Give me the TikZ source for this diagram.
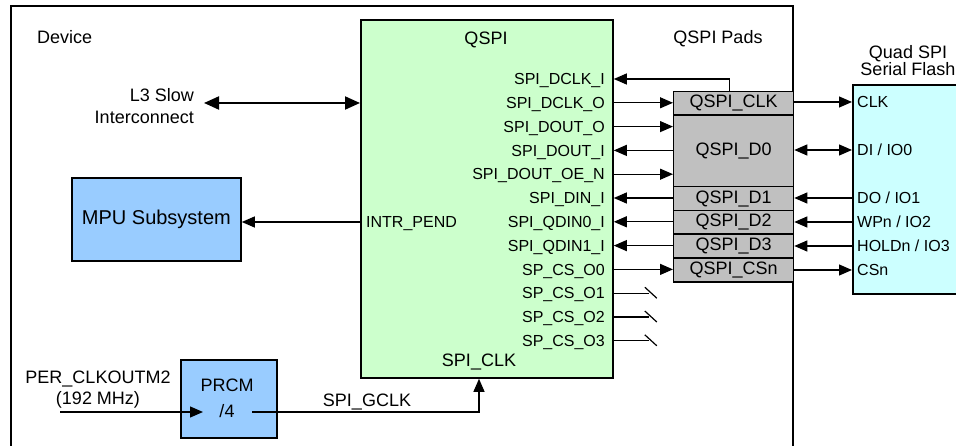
\documentclass[tikz,border=0pt]{standalone}
\usepackage{fontspec}
\setmainfont{Liberation Sans}
\usetikzlibrary{arrows.meta}
\definecolor{qgreen}{HTML}{CCFFCC}
\definecolor{qblue}{HTML}{99CCFF}
\definecolor{qcyan}{HTML}{CCFFFF}
\definecolor{qgray}{HTML}{C0C0C0}
\begin{document}
\begin{tikzpicture}[x=1pt,y=-1pt,
  blk/.style={draw, line width=1.8pt, inner sep=0pt, anchor=north west},
  pad/.style={draw, line width=1.3pt, fill=qgray, inner sep=0pt, anchor=north west, minimum width=120pt, font=\fontsize{18}{20}\selectfont},
  sig/.style={font=\fontsize{16}{18}\selectfont, inner sep=0pt, text height=11.5pt, text depth=0pt},
  lbl/.style={font=\fontsize{18}{22}\selectfont, inner sep=0pt},
  con/.style={line width=1.2pt},
  tip/.style={-{Triangle[length=13pt,width=11pt]}},
  tipb/.style={{Triangle[length=13pt,width=11pt]}-{Triangle[length=13pt,width=11pt]}},
  tipL/.style={{Triangle[length=15pt,width=13pt]}-{Triangle[length=15pt,width=13pt]}}]
\useasboundingbox (0,0) rectangle (956,446);
% device outline
\draw[line width=2pt] (11,470) -- (11,6) -- (793,6) -- (793,470);
\node[lbl, anchor=west] (dev) at (37,37) {Device};
% QSPI block
\node[blk, fill=qgreen, minimum width=252pt, minimum height=358pt] (qspi) at (360,19) {};
\node[lbl] (qt) at (486,40) {QSPI};
% signal labels
\foreach \n/\t [count=\i from 0] in {l1/SPI\_DCLK\_I, l2/SPI\_DCLK\_O, l3/SPI\_DOUT\_O, l4/SPI\_DOUT\_I, l5/SPI\_DOUT\_OE\_N, l6/SPI\_DIN\_I, l7/SPI\_QDIN0\_I, l8/SPI\_QDIN1\_I, l9/SP\_CS\_O0, l10/SP\_CS\_O1, l11/SP\_CS\_O2, l12/SP\_CS\_O3}
  \node[sig, anchor=east] (\n) at (605,{79+23.8*\i}) {\t};
\node[sig, anchor=west] (intr) at (366,222) {INTR\_PEND};
\node[lbl] (sclk) at (479,362) {SPI\_CLK};
% pads
\node[lbl] (padt) at (718,39) {QSPI Pads};
\node[pad, minimum height=23.5pt] (pclk) at (673,91) {QSPI\_CLK};
\node[pad, minimum height=71.5pt] (pd0) at (673,114.5) {QSPI\_D0};
\node[pad, minimum height=24pt] (pd1) at (673,186) {QSPI\_D1};
\node[pad, minimum height=23.5pt] (pd2) at (673,210) {QSPI\_D2};
\node[pad, minimum height=24pt] (pd3) at (673,233.5) {QSPI\_D3};
\node[pad, minimum height=24pt] (pcs) at (673,257.5) {QSPI\_CSn};
% flash
\node[blk, fill=qcyan, minimum width=140pt, minimum height=209pt] (fl) at (852,84) {};
\node[lbl, align=center, font=\fontsize{18}{17}\selectfont] (flt) at (908,61) {Quad SPI\\Serial Flash};
\foreach \n/\t/\y in {f1/{CLK}/102, f2/{DI / IO0}/150, f3/{DO / IO1}/198, f4/{WPn / IO2}/222, f5/{HOLDn / IO3}/246, f6/{CSn}/270}
  \node[sig, anchor=west] (\n) at (857,\y) {\t};
% QSPI <-> pads
\draw[con, tip] ([xshift=-4pt]pclk.north) |- (qspi.east |- l1);
\draw[con, tip] (qspi.east |- l2) -- (pclk.west |- l2);
\draw[con, tip] (qspi.east |- l3) -- (pd0.west |- l3);
\draw[con, tip] (pd0.west |- l4) -- (qspi.east |- l4);
\draw[con, tip] (qspi.east |- l5) -- (pd0.west |- l5);
\draw[con, tip] (pd1.west |- l6) -- (qspi.east |- l6);
\draw[con, tip] (pd2.west |- l7) -- (qspi.east |- l7);
\draw[con, tip] (pd3.west |- l8) -- (qspi.east |- l8);
\draw[con, tip] (qspi.east |- l9) -- (pcs.west |- l9);
\foreach \n in {l10,l11,l12} {
  \coordinate (\n e) at ([xshift=35pt]qspi.east |- \n);
  \draw[con] (qspi.east |- \n) -- (\n e);
  \draw[con] ([shift={(-4pt,6pt)}]\n e) -- ([shift={(8pt,-5pt)}]\n e);
}
% pads <-> flash
\draw[con, tip] (pclk.east |- f1) -- (fl.west |- f1);
\draw[con, tipb] (pd0.east |- f2) -- (fl.west |- f2);
\draw[con, tip] (fl.west |- f3) -- (pd1.east |- f3);
\draw[con, tip] (fl.west |- f4) -- (pd2.east |- f4);
\draw[con, tip] (fl.west |- f5) -- (pd3.east |- f5);
\draw[con, tip] (pcs.east |- f6) -- (fl.west |- f6);
% L3
\node[lbl, align=right, anchor=east] (l3i) at (194,106) {L3 Slow\\Interconnect};
\coordinate (l3e) at (204,103);
\draw[tipL, line width=2pt] (l3e) -- (qspi.west |- l3e);
% MPU
\node[blk, fill=qblue, minimum width=169pt, minimum height=83pt, font=\fontsize{20}{22}\selectfont] (mpu) at (71,177) {MPU Subsystem};
\draw[con, tip] (qspi.west |- intr) -- (mpu.east |- intr);
% PRCM
\node[blk, fill=qblue, minimum width=96pt, minimum height=78pt] (prcm) at (180,359) {};
\node[lbl] (prt) at (227,385) {PRCM};
\node[lbl] (prd) at (227,411) {/4};
\node[lbl, align=center, font=\fontsize{18}{21}\selectfont] (per) at (98,390) {PER\_CLKOUTM2\\(192 MHz)};
\coordinate (pin) at (60,412);
\coordinate (pint) at (203,412);
\draw[con, tip] (pin) -- (pint);
\coordinate (pout) at (252,412);
\node[lbl] (gclk) at (367,402) {SPI\_GCLK};
\draw[con, tip] (pout) -| (qspi.south -| sclk);
\end{tikzpicture}
\end{document}
